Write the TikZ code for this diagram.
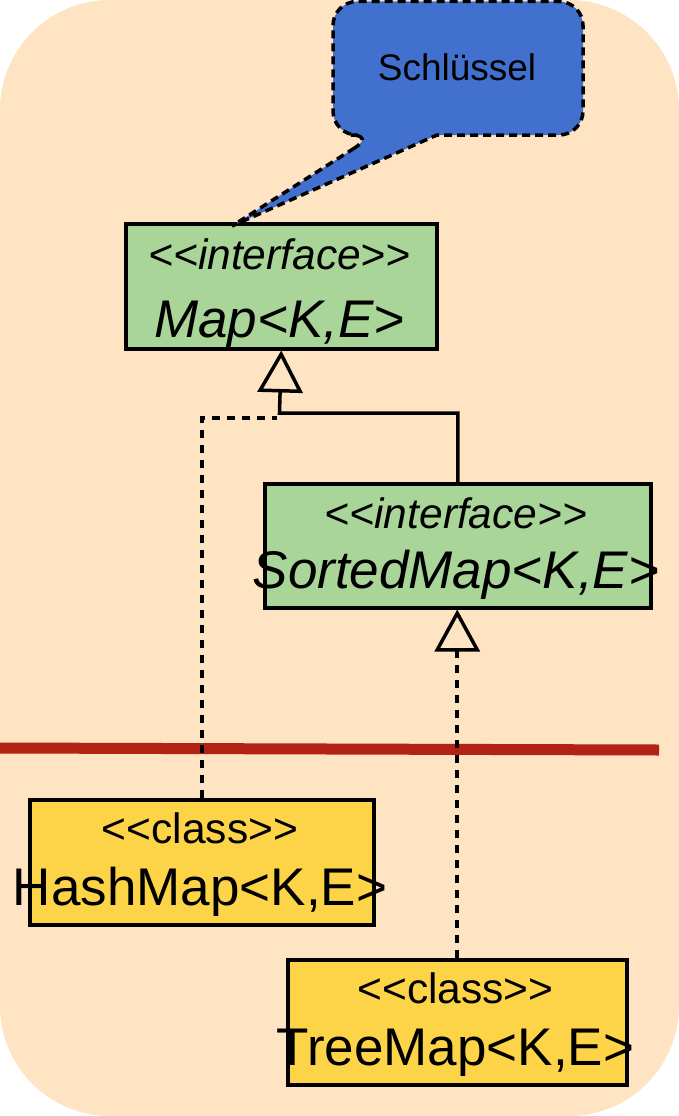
\documentclass[tikz,border=0pt]{standalone}
\usepackage{fontspec}
\setmainfont{Liberation Sans}
\usetikzlibrary{arrows.meta}
\definecolor{bgc}{RGB}{255,228,196}
\definecolor{ifc}{RGB}{169,214,152}
\definecolor{clc}{RGB}{253,212,72}
\definecolor{sepc}{RGB}{178,35,20}
\definecolor{callc}{RGB}{65,112,207}
\begin{document}
\begin{tikzpicture}[x=1pt,y=-1pt,
  umlbox/.style={draw=black, line width=3.5pt, inner sep=0pt, anchor=north west},
  ifbox/.style={umlbox, fill=ifc},
  clbox/.style={umlbox, fill=clc},
  stereo/.style={anchor=base, inner sep=0pt, font=\fontsize{42.5}{42.5}\selectfont},
  stereoit/.style={anchor=base, inner sep=0pt, font=\fontsize{42.5}{42.5}\itshape\selectfont},
  bigname/.style={anchor=base, inner sep=0pt, font=\fontsize{53}{53}\selectfont},
  bignameit/.style={anchor=base, inner sep=0pt, font=\fontsize{53}{53}\itshape\selectfont},
  conn/.style={line width=3.5pt, draw=black},
  dconn/.style={conn, line width=4pt, dash pattern=on 8pt off 7pt},
  inherit/.style={-{Triangle[open, length=42pt, width=45pt, line width=3.5pt]}},
]
\useasboundingbox (0,0) rectangle (679,1116);
\fill[bgc, rounded corners=110pt] (0,0) rectangle (679,1116);

% separator line
\coordinate (sepL) at (0,748);
\coordinate (sepR) at (659,750);
\draw[sepc, line width=11pt] (sepL) -- (sepR);

% boxes
\node[ifbox, minimum width=311pt, minimum height=125pt] (map) at (124,222) {};
\node[ifbox, minimum width=386pt, minimum height=124pt] (sorted) at (263,482) {};
\node[clbox, minimum width=344pt, minimum height=125pt] (hash) at (28,798) {};
\node[clbox, minimum width=339pt, minimum height=125pt] (tree) at (286,958) {};

% texts
\node[stereoit] (mapst) at (279.5,269) {<{}<interface>{}>};
\node[bignameit] (mapnm) at (279.5,337) {Map<K,E>};
\node[stereoit] (sortst) at (456,528) {<{}<interface>{}>};
\node[bignameit] (sortnm) at (456,588) {SortedMap<K,E>};
\node[stereo] (hashst) at (200,843) {<{}<class>{}>};
\node[bigname] (hashnm) at (200,905) {HashMap<K,E>};
\node[stereo] (treest) at (455.5,1003) {<{}<class>{}>};
\node[bigname] (treenm) at (455.5,1065) {TreeMap<K,E>};

% connectors
\coordinate (j1) at (279.5,413);
\coordinate (j2) at (277,418);
\draw[conn, inherit] (sorted.north) |- (j1) -- (map.south);
\draw[dconn] (hash.north) |- (j2);
\draw[dconn, inherit] (tree.north) -- (tree.north |- sorted.south);

% callout
\coordinate (tip) at (232,226);
\draw[fill=callc, draw=black, line width=3.5pt, dash pattern=on 8pt off 5pt]
  (375,135) -- (tip) -- (437,135) [rounded corners=24pt] -- (583,135) -- (583,1.5) -- (333,1.5) -- (333,135) -- cycle;
\node[anchor=base, inner sep=0pt, font=\fontsize{37}{37}\selectfont] (schl) at (457,81) {Schlüssel};
\end{tikzpicture}
\end{document}
